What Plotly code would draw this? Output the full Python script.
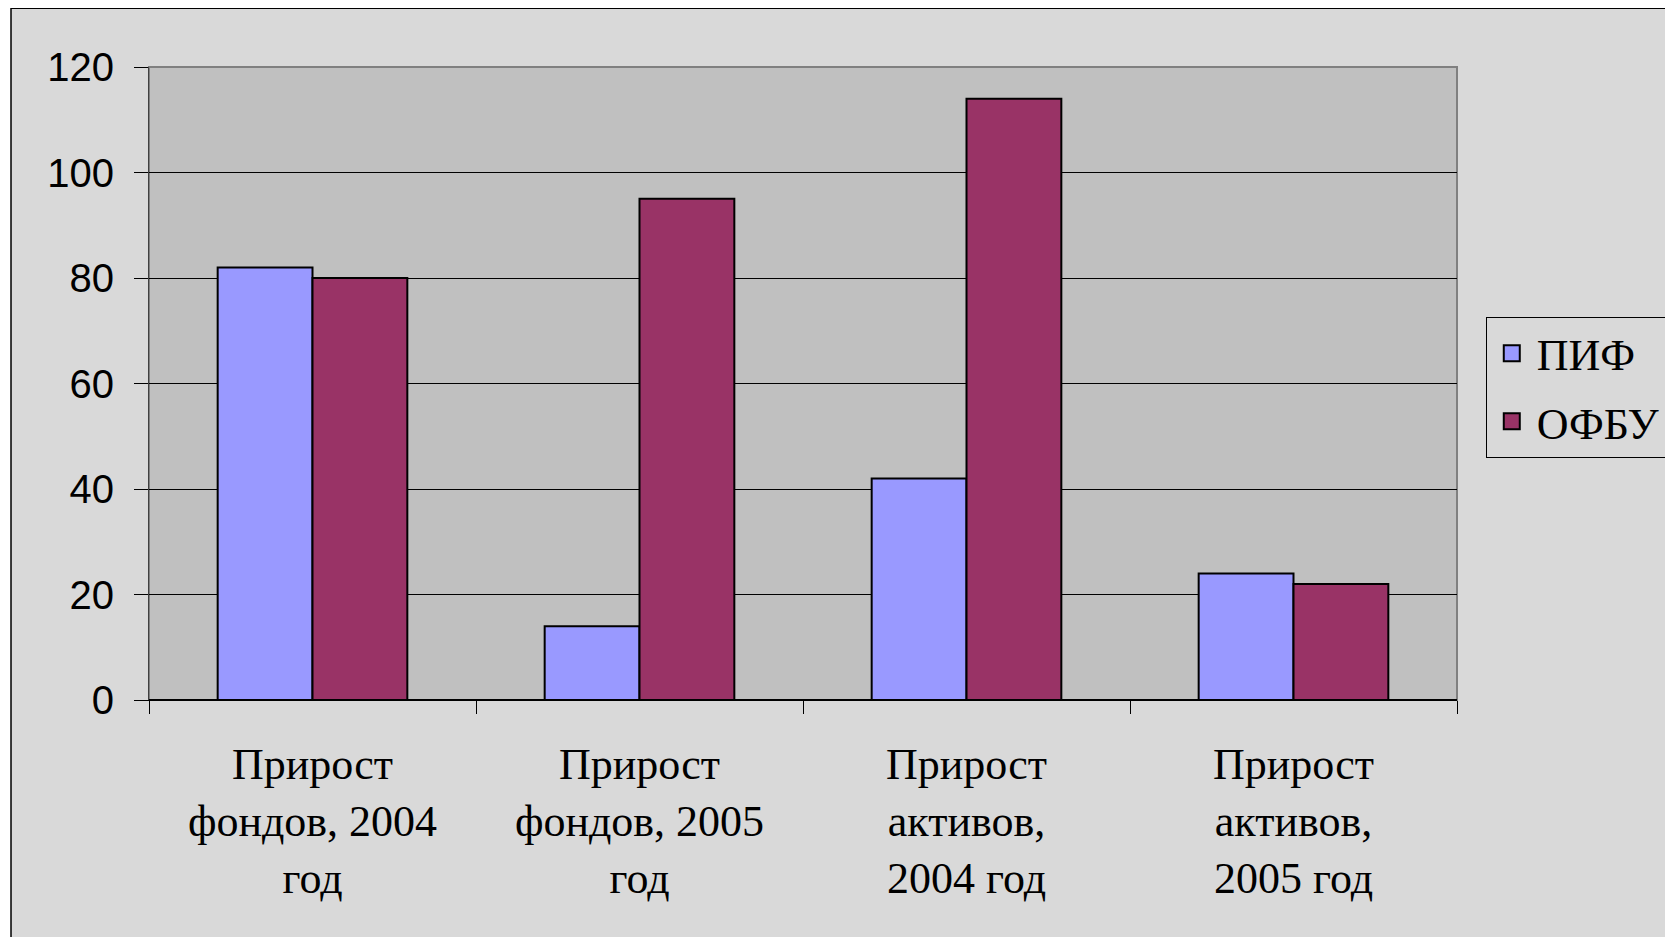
import plotly.graph_objects as go

categories = ["Прирост<br>фондов, 2004<br>год", "Прирост<br>фондов, 2005<br>год",
              "Прирост<br>активов,<br>2004 год", "Прирост<br>активов,<br>2005 год"]
pif = [82, 14, 42, 24]
ofbu = [80, 95, 114, 22]

BLUE = "#9999ff"
MAROON = "#993366"
SERIF = "Liberation Serif"
SANS = "Liberation Sans"

fig = go.Figure()

# bars (legend drawn by separate marker traces so the squares can be bigger)
fig.add_trace(go.Bar(x=categories, y=pif, name="ПИФ", showlegend=False,
                     marker=dict(color=BLUE, line=dict(color="black", width=2))))
fig.add_trace(go.Bar(x=categories, y=ofbu, name="ОФБУ", showlegend=False,
                     marker=dict(color=MAROON, line=dict(color="black", width=2))))

for name, color in [("ПИФ", BLUE), ("ОФБУ", MAROON)]:
    fig.add_trace(go.Scatter(x=[None], y=[None], mode="markers", name=name, legendgroup=name,
                             marker=dict(symbol="square", size=22, color=color,
                                         line=dict(color="black", width=2))))

# page body adds 8px, so the figure is 8px smaller than the window
fig.update_layout(
    width=1665, height=929,
    margin=dict(l=141, r=216, t=59, b=237, autoexpand=False),
    paper_bgcolor="#d9d9d9",
    plot_bgcolor="#c0c0c0",
    barmode="group",
    bargap=0.42,
    bargroupgap=0,
    showlegend=True,
    legend=dict(x=1.022, y=0.605, xanchor="left", yanchor="top",
                bordercolor="black", borderwidth=1, bgcolor="rgba(0,0,0,0)",
                font=dict(family=SERIF, size=44, color="black"),
                itemsizing="trace", tracegroupgap=8, itemwidth=40),
    xaxis=dict(showgrid=False, tickson="boundaries", ticks="outside", ticklen=13,
               tickcolor="black", showline=True, linecolor="black", linewidth=1,
               ticklabelstandoff=25,
               tickfont=dict(family=SERIF, size=44, color="black")),
    yaxis=dict(range=[0, 120], dtick=20, showgrid=True, gridcolor="black", gridwidth=1,
               zeroline=True, zerolinecolor="black", ticks="outside", ticklen=14,
               tickcolor="black", showline=True, linecolor="#404040", linewidth=1,
               ticklabelstandoff=12,
               tickfont=dict(family=SANS, size=40, color="black")),
)

# outer chart frame and white page margin
fig.add_shape(type="rect", xref="paper", yref="paper", x0=-0.2, x1=-0.1055, y0=-0.6, y1=1.3,
              fillcolor="white", line=dict(width=0), layer="below")
fig.add_shape(type="rect", xref="paper", yref="paper", x0=-0.2, x1=1.4, y0=1.093, y1=1.3,
              fillcolor="white", line=dict(width=0), layer="below")
fig.add_shape(type="rect", xref="paper", yref="paper", x0=-0.1055, x1=1.4, y0=-0.6, y1=1.093,
              line=dict(color="black", width=1.5), layer="below")
# plot area border
fig.add_shape(type="rect", xref="paper", yref="paper", x0=0, x1=1, y0=0, y1=1,
              line=dict(color="#808080", width=2), layer="below")

fig.write_html("out.html")
